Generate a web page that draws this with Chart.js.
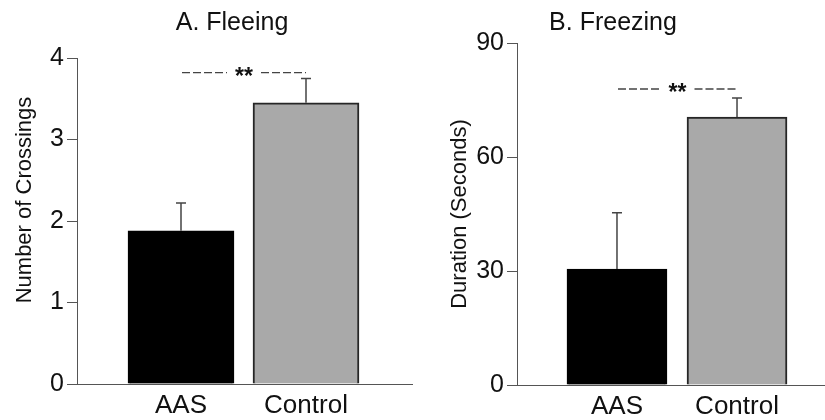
<!DOCTYPE html>
<html>
<head>
<meta charset="utf-8">
<script src="https://cdn.jsdelivr.net/npm/chart.js@4/dist/chart.umd.min.js"></script>
<style>
  body { margin: 0; background: #fff; width: 825px; height: 420px; position: relative; overflow: hidden; }
  canvas { position: absolute; top: 0; }
  #fleeChart { left: 0; }
  #freezeChart { left: 420px; }
</style>
</head>
<body>
<canvas id="fleeChart" width="420" height="420"></canvas>
<canvas id="freezeChart" width="405" height="420"></canvas>
<script>
// groups on the x axis
const categories = ['AAS', 'Control'];
// A. Fleeing: number of crossings (mean, SEM)
const fleeMeans = [1.88, 3.45];
const fleeErrors = [0.34, 0.30];
const fleeTicks = [0, 1, 2, 3, 4];
// B. Freezing: duration in seconds (mean, SEM)
const freezeMeans = [30.5, 70.5];
const freezeErrors = [14.8, 5.0];
const freezeTicks = [0, 30, 60, 90];
// height of the "**" significance line on each panel
const sigLevels = [3.82, 77.9];

const FONT = '"Liberation Sans", Arial, sans-serif';

// error bars, significance marker and the texts
const extras = {
  id: 'extras',
  afterDatasetsDraw(chart, args, o) {
    const ctx = chart.ctx, xs = chart.scales.x, ys = chart.scales.y;
    const meta = chart.getDatasetMeta(0);
    ctx.save();
    ctx.strokeStyle = '#444';
    ctx.lineWidth = 1.5;
    meta.data.forEach((bar, i) => {
      const top = ys.getPixelForValue(o.means[i] + o.errors[i]);
      ctx.beginPath();
      ctx.moveTo(bar.x, bar.y);
      ctx.lineTo(bar.x, top);
      ctx.moveTo(bar.x - 5, top);
      ctx.lineTo(bar.x + 5, top);
      ctx.stroke();
    });

    // ---- ** ----
    const sy = ys.getPixelForValue(o.sig);
    const x0 = xs.getPixelForValue(0) + 1, x1 = xs.getPixelForValue(1);
    const mid = (x0 + x1) / 2;
    ctx.strokeStyle = '#444';
    ctx.lineWidth = 1.4;
    ctx.setLineDash([8, 3]);
    ctx.beginPath();
    ctx.moveTo(x0, sy); ctx.lineTo(mid - 17, sy);
    ctx.moveTo(mid + 17, sy); ctx.lineTo(x1, sy);
    ctx.stroke();
    ctx.setLineDash([]);
    ctx.fillStyle = '#111';
    ctx.font = 'bold 23px ' + FONT;
    ctx.textAlign = 'center';
    ctx.textBaseline = 'middle';
    ctx.fillText('**', mid, sy + 5);

    // panel title
    ctx.font = '25px ' + FONT;
    ctx.fillText(o.title, o.titleX, 23);
    // y axis title
    ctx.translate(o.yTitleX, o.yTitleY);
    ctx.rotate(-Math.PI / 2);
    ctx.font = '22px ' + FONT;
    ctx.fillText(o.yTitle, 0, 0);
    ctx.restore();
  }
};

function makeChart(id, means, errors, ticks, p) {
  const ctx = document.getElementById(id).getContext('2d');
  return new Chart(ctx, {
    type: 'bar',
    data: {
      datasets: [{
        data: means.map((v, i) => ({ x: i, y: v })),
        backgroundColor: ['#000000', '#a9a9a9'],
        borderColor: ['#000000', '#262626'],
        borderWidth: 2,
        borderSkipped: 'bottom',
        barThickness: p.barWidth
      }]
    },
    options: {
      responsive: false,
      animation: false,
      devicePixelRatio: 1,
      layout: { padding: { top: p.top, right: p.right, left: 0, bottom: 0 } },
      plugins: {
        legend: { display: false },
        tooltip: { enabled: false },
        extras: {
          means: means, errors: errors, sig: p.sig,
          title: p.title, titleX: p.titleX,
          yTitle: p.yTitle, yTitleX: p.yTitleX, yTitleY: p.yTitleY
        }
      },
      scales: {
        x: {
          type: 'linear',
          offset: false,
          min: p.xMin,
          max: p.xMax,
          afterBuildTicks: s => { s.ticks = categories.map((c, i) => ({ value: i })); },
          ticks: {
            callback: v => categories[v],
            font: { size: 26, family: FONT },
            color: '#111',
            padding: 6,
            maxRotation: 0,
            autoSkip: false
          },
          grid: { display: false, drawTicks: false, offset: false },
          border: { color: '#555', width: 1 },
          afterFit: s => { s.height = p.xHeight; }
        },
        y: {
          min: 0,
          max: ticks[ticks.length - 1],
          afterBuildTicks: s => { s.ticks = ticks.map(v => ({ value: v })); },
          ticks: { font: { size: 25, family: FONT }, color: '#111', padding: 3 },
          grid: { drawOnChartArea: false, tickLength: 10, color: '#555' },
          border: { color: '#555', width: 1 },
          afterFit: s => { s.width = p.yWidth; }
        }
      }
    },
    plugins: [extras]
  });
}

makeChart('fleeChart', fleeMeans, fleeErrors, fleeTicks, {
  top: 58, right: 8, xHeight: 36, yWidth: 77,
  xMin: -0.832, xMax: 1.848, barWidth: 106, sig: sigLevels[0],
  title: 'A. Fleeing', titleX: 232,
  yTitle: 'Number of Crossings', yTitleX: 25, yTitleY: 200
});

makeChart('freezeChart', freezeMeans, freezeErrors, freezeTicks, {
  top: 43, right: 0, xHeight: 35, yWidth: 97,
  xMin: -0.833, xMax: 1.733, barWidth: 100, sig: sigLevels[1],
  title: 'B. Freezing', titleX: 193,
  yTitle: 'Duration (Seconds)', yTitleX: 40, yTitleY: 214
});
</script>
</body>
</html>
